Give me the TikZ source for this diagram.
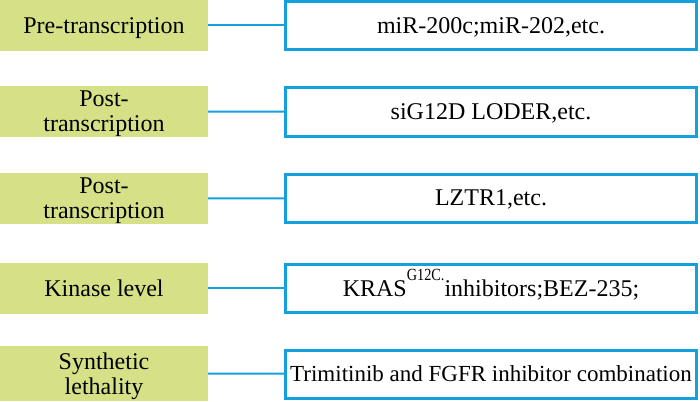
\documentclass[tikz,border=0pt]{standalone}
\usepackage{fontspec}
\usepackage{graphicx}
\setmainfont{Liberation Serif}
\definecolor{levelgreen}{RGB}{214,224,134}
\definecolor{agentblue}{RGB}{20,160,220}
\newcommand{\supG}[1]{\smash{\raisebox{16pt}{\scalebox{0.84}[1]{\fontsize{17}{17}\selectfont #1}}}}
\begin{document}
\begin{tikzpicture}[x=1pt,y=-1pt]
\tikzset{levelbox/.style = {fill=levelgreen, minimum width=208pt, minimum height=51pt, inner sep=0pt, align=center,
  text depth=0pt, font=\fontsize{24}{25}\selectfont},
  agentbox/.style = {draw=agentblue, line width=3pt, fill=white, minimum width=411pt, minimum height=48pt, inner sep=0pt,
  text depth=0pt, font=\fontsize{24}{25}\selectfont},
  linkline/.style = {draw=agentblue, line width=2pt}}
\useasboundingbox (0,0) rectangle (700,401);

\node[levelbox] (pre) at (104,25.5) {Pre-transcription};
\node[levelbox] (posta) at (104,111.5) {Post-\\transcription};
\node[levelbox] (postb) at (104,198.5) {Post-\\transcription};
\node[levelbox] (kinase) at (104,288) {Kinase level};
\node[levelbox, minimum height=55pt] (synth) at (104,373.5) {Synthetic\\lethality};

\node[agentbox] (mir) at (491,25.5) {miR-200c;miR-202,etc.};
\node[agentbox] (sig) at (491,112) {siG12D LODER,etc.};
\node[agentbox] (lztr) at (491,198) {LZTR1,etc.};
\node[agentbox] (kras) at (491,288) {KRAS\supG{G12C.}inhibitors;BEZ-235;};
\node[agentbox, font=\fontsize{23}{24}\selectfont] (trim) at (491,374) {Trimitinib and FGFR inhibitor combination};

\draw[linkline] (pre) -- (mir);
\draw[linkline] (posta) -- (sig);
\draw[linkline] (postb) -- (lztr);
\draw[linkline] (kinase) -- (kras);
\draw[linkline] (synth) -- (trim);
\end{tikzpicture}
\end{document}
